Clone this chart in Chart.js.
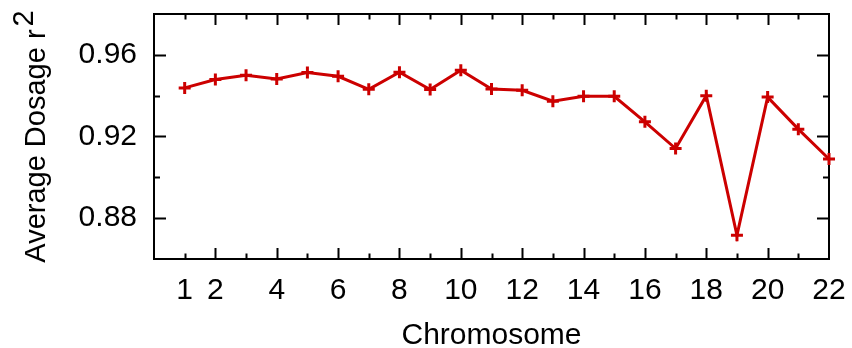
<!DOCTYPE html>
<html>
<head>
<meta charset="utf-8">
<script src="https://cdn.jsdelivr.net/npm/chart.js@4.4.1/dist/chart.umd.min.js"></script>
<style>
  html, body { margin: 0; padding: 0; background: #fff; }
</style>
</head>
<body>
<canvas id="dosageChart" width="852" height="348"></canvas>
<script>
// --- DATA ---
const chromosomes = [1, 2, 3, 4, 5, 6, 7, 8, 9, 10, 11, 12, 13, 14, 15, 16, 17, 18, 19, 20, 21, 22];
const dosageR2 = [0.9438, 0.9479, 0.9500, 0.9482, 0.9513, 0.9495, 0.9431, 0.9515, 0.9430, 0.9525, 0.9433,
                  0.9426, 0.9373, 0.9397, 0.9397, 0.9272, 0.9141, 0.9400, 0.8716, 0.9393, 0.9236, 0.9090];

const xTickLabels = [1, 2, 4, 6, 8, 10, 12, 14, 16, 18, 20, 22];
const xMajorTicks = [2, 4, 6, 8, 10, 12, 14, 16, 18, 20];
const xMinorTicks = [1, 3, 5, 7, 9, 11, 13, 15, 17, 19, 21];
const yTickLabels = [0.88, 0.92, 0.96];
const yMinorTicks = [0.90, 0.94];

const FONT = '"Liberation Sans", Arial, Helvetica, sans-serif';
const FONT_SIZE = 30;
const TITLE_SIZE = 29;
const LINE_RED = '#cc0000';

Chart.defaults.font.family = FONT;
Chart.defaults.font.size = FONT_SIZE;
Chart.defaults.color = '#000';

// --- gnuplot-like box with inward ticks on all four sides ---
const frameTicks = {
    id: 'frameTicks',
    beforeDatasetsDraw(chart) {
        const { ctx, chartArea: a, scales: { x, y } } = chart;
        ctx.save();
        ctx.strokeStyle = '#000';
        ctx.lineWidth = 2;
        ctx.beginPath();

        const xTicks = (vals, len) => vals.forEach(v => {
            const px = Math.round(x.getPixelForValue(v)) + 0.5;
            ctx.moveTo(px, a.bottom); ctx.lineTo(px, a.bottom - len);
            ctx.moveTo(px, a.top); ctx.lineTo(px, a.top + len);
        });
        const yTicks = (vals, len) => vals.forEach(v => {
            const py = Math.round(y.getPixelForValue(v)) + 0.5;
            ctx.moveTo(a.left, py); ctx.lineTo(a.left + len, py);
            ctx.moveTo(a.right, py); ctx.lineTo(a.right - len, py);
        });
        xTicks(xMajorTicks, 11);
        xTicks(xMinorTicks, 5.5);
        yTicks(yTickLabels, 12);
        yTicks(yMinorTicks, 6);
        ctx.stroke();

        ctx.strokeRect(a.left, a.top, a.right - a.left, a.bottom - a.top);
        ctx.restore();
    }
};

// --- y title with raised exponent ---
const yTitle = {
    id: 'yTitle',
    afterDraw(chart) {
        const { ctx, chartArea: a } = chart;
        const main = 'Average Dosage r';
        const sup = '2';
        ctx.save();
        ctx.fillStyle = '#000';
        ctx.textBaseline = 'alphabetic';
        ctx.font = TITLE_SIZE + 'px ' + FONT;
        const wMain = ctx.measureText(main).width;
        const wSup = ctx.measureText(sup).width;
        const total = wMain + 3 + wSup;

        ctx.translate(45, (a.top + a.bottom) / 2);
        ctx.rotate(-Math.PI / 2);
        ctx.fillText(main, -total / 2, 0);
        ctx.fillText(sup, -total / 2 + wMain + 3, -12);
        ctx.restore();
    }
};

new Chart(document.getElementById('dosageChart').getContext('2d'), {
    type: 'line',
    data: {
        datasets: [{
            data: chromosomes.map((c, i) => ({ x: c, y: dosageR2[i] })),
            borderColor: LINE_RED,
            backgroundColor: LINE_RED,
            borderWidth: 3,
            pointStyle: 'cross',
            pointRadius: 6,
            pointBorderWidth: 3,
            pointBorderColor: LINE_RED,
            tension: 0,
            clip: false
        }]
    },
    options: {
        responsive: false,
        animation: false,
        layout: { padding: { top: 14, right: 23, left: 0, bottom: 0 } },
        plugins: { legend: { display: false }, tooltip: { enabled: false } },
        scales: {
            x: {
                type: 'linear',
                min: 0,
                max: 22,
                afterBuildTicks: scale => { scale.ticks = xTickLabels.map(v => ({ value: v })); },
                afterFit: scale => { scale.height = 89; scale.paddingLeft = 0; scale.paddingRight = 0; },
                ticks: { padding: 14, maxRotation: 0, autoSkip: false, callback: v => String(v) },
                grid: { display: false, drawTicks: false },
                border: { display: false },
                title: { display: true, text: 'Chromosome', font: { lineHeight: 0.8 }, padding: { top: 0, bottom: 0 } }
            },
            y: {
                type: 'linear',
                min: 0.86,
                max: 0.98,
                afterBuildTicks: scale => { scale.ticks = yTickLabels.map(v => ({ value: v })); },
                afterFit: scale => { scale.width = 154; scale.paddingTop = 0; scale.paddingBottom = 0; },
                ticks: { padding: 17, callback: v => v.toFixed(2) },
                grid: { display: false, drawTicks: false },
                border: { display: false }
            }
        }
    },
    plugins: [frameTicks, yTitle]
});
</script>
</body>
</html>
